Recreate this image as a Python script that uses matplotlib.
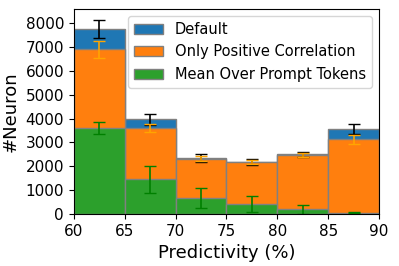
import numpy as np
import matplotlib.pyplot as plt

# bins of predictivity (%)
bin_left = [60, 65, 70, 75, 80, 85]

default_vals = [7750, 3960, 2340, 2190, 2500, 3555]
default_err = [380, 230, 170, 130, 90, 210]

positive_vals = [6890, 3610, 2320, 2170, 2480, 3125]
positive_err = [350, 175, 105, 90, 90, 190]

mean_vals = [3610, 1450, 680, 420, 200, 50]
mean_err = [240, 560, 405, 335, 200, 20]

fig = plt.figure(figsize=(3.99, 2.66), dpi=100)
ax = fig.add_axes([0.185, 0.195, 0.765, 0.771])

centers = np.array(bin_left) + 2.5

ax.bar(bin_left, default_vals, width=5, align='edge', color='tab:blue',
       edgecolor='grey', linewidth=1, label='Default')
ax.errorbar(centers, default_vals, yerr=default_err, fmt='none', ecolor='black',
            capsize=4, elinewidth=1.2)
ax.bar(bin_left, positive_vals, width=5, align='edge', color='tab:orange',
       edgecolor='grey', linewidth=1, label='Only Positive Correlation')
ax.errorbar(centers, positive_vals, yerr=positive_err, fmt='none', ecolor='orange',
            capsize=4, elinewidth=1.2)
ax.bar(bin_left, mean_vals, width=5, align='edge', color='tab:green',
       edgecolor='grey', linewidth=1, label='Mean Over Prompt Tokens')
ax.errorbar(centers, mean_vals, yerr=mean_err, fmt='none', ecolor='green',
            capsize=4, elinewidth=1.2)

ax.set_xlim(60, 90)
ax.set_ylim(0, 8580)
ax.set_xticks([60, 65, 70, 75, 80, 85, 90])
ax.set_yticks(range(0, 8001, 1000))
ax.tick_params(labelsize=11)
ax.set_xlabel('Predictivity (%)', fontsize=13)
ax.set_ylabel('#Neuron', fontsize=13)
ax.legend(loc='upper right', fontsize=10.5)

fig.savefig('out.png', dpi=100)
